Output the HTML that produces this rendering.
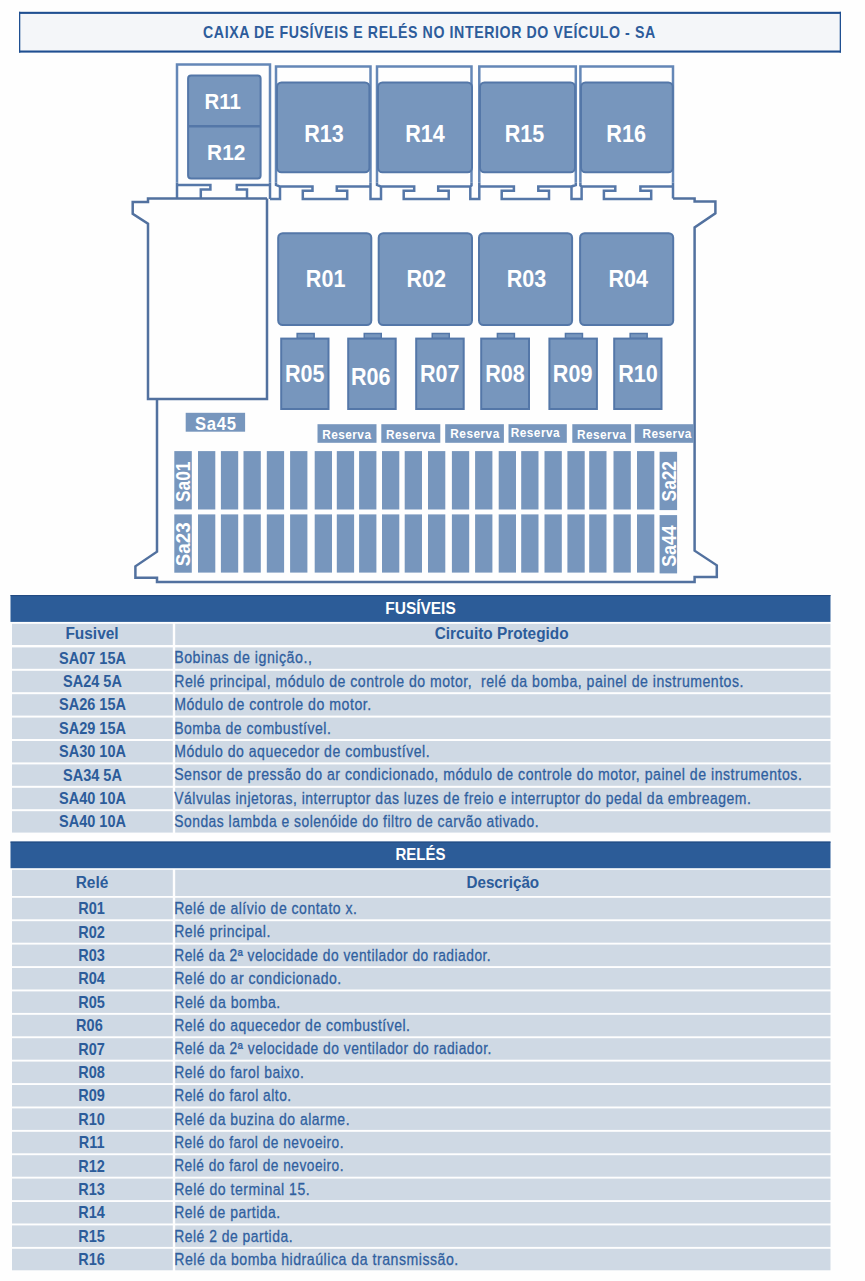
<!DOCTYPE html>
<html><head><meta charset="utf-8"><style>
html,body{margin:0;padding:0;background:#fefefe;}
body{width:865px;height:1281px;position:relative;overflow:hidden;}
svg{position:absolute;left:0;top:0;}
svg text{font-family:"Liberation Sans",sans-serif;white-space:pre;}
</style></head><body>
<svg width="865" height="1281" viewBox="0 0 865 1281">
<rect x="19" y="12" width="822" height="40.5" fill="#f4f6f9"/>
<rect x="19" y="11.8" width="822" height="2.1" fill="#1f4f91"/>
<rect x="19" y="50.5" width="822" height="2.1" fill="#1f4f91"/>
<rect x="19" y="11.8" width="1.3" height="40.8" fill="#1f4f91"/>
<rect x="839.7" y="11.8" width="1.3" height="40.8" fill="#1f4f91"/>
<text x="0" y="0" font-size="16.2" font-weight="bold" letter-spacing="0.69" fill="#2d5c9b" text-anchor="middle" transform="translate(429.4,37.7) scale(0.874,1)">CAIXA DE FUSÍVEIS E RELÉS NO INTERIOR DO VEÍCULO - SA</text>
<defs><clipPath id="lo"><rect x="0" y="182.5" width="865" height="30"/></clipPath><clipPath id="hi"><rect x="0" y="0" width="865" height="182.5"/></clipPath></defs>
<path d="M177,198.5 L177,64.5 L270,64.5 L270,199 M177,185 L210.4,185 L210.4,189.5 L200.8,189.5 L200.8,198.5 M247,198.5 L247,189.5 L236.8,189.5 L236.8,185 L270,185 M270,199 L280,199 L280,186.5 L276,185 L276,66.5 L370.5,66.5 L370.5,199 L381,199 L381,186.5 L377,185 L377,66.5 L471.5,66.5 L471.5,185.5 L470.3,186.5 L470.3,199 L479.3,199 L479.3,66.5 L575.8,66.5 L575.8,185 L571.5,186.5 L571.5,199 L581.6,199 L581.6,186.5 L580.4,185.5 L580.4,66.5 L673,66.5 L673,198.5 M280,186.4 L312.5,186.4 L312.5,190.8 L302.8,190.8 L302.8,199 L347.2,199 L347.2,190.8 L336.8,190.8 L336.8,186.4 L370.5,186.4 M381,186.4 L414.2,186.4 L414.2,190.8 L403.7,190.8 L403.7,199 L448.7,199 L448.7,190.8 L438.2,190.8 L438.2,186.4 L470.3,186.4 M479.3,186.4 L513.9,186.4 L513.9,190.8 L501.7,190.8 L501.7,199 L549,199 L549,190.8 L538.3,190.8 L538.3,186.4 L571.5,186.4 M581.6,186.4 L615.3,186.4 L615.3,190.8 L603.9,190.8 L603.9,199 L651.2,199 L651.2,190.8 L640.4,190.8 L640.4,186.4 L673,186.4" fill="none" stroke="#6487b7" stroke-width="2.5" stroke-linejoin="miter" clip-path="url(#hi)"/>
<path d="M177,198.5 L177,64.5 L270,64.5 L270,199 M177,185 L210.4,185 L210.4,189.5 L200.8,189.5 L200.8,198.5 M247,198.5 L247,189.5 L236.8,189.5 L236.8,185 L270,185 M270,199 L280,199 L280,186.5 L276,185 L276,66.5 L370.5,66.5 L370.5,199 L381,199 L381,186.5 L377,185 L377,66.5 L471.5,66.5 L471.5,185.5 L470.3,186.5 L470.3,199 L479.3,199 L479.3,66.5 L575.8,66.5 L575.8,185 L571.5,186.5 L571.5,199 L581.6,199 L581.6,186.5 L580.4,185.5 L580.4,66.5 L673,66.5 L673,198.5 M280,186.4 L312.5,186.4 L312.5,190.8 L302.8,190.8 L302.8,199 L347.2,199 L347.2,190.8 L336.8,190.8 L336.8,186.4 L370.5,186.4 M381,186.4 L414.2,186.4 L414.2,190.8 L403.7,190.8 L403.7,199 L448.7,199 L448.7,190.8 L438.2,190.8 L438.2,186.4 L470.3,186.4 M479.3,186.4 L513.9,186.4 L513.9,190.8 L501.7,190.8 L501.7,199 L549,199 L549,190.8 L538.3,190.8 L538.3,186.4 L571.5,186.4 M581.6,186.4 L615.3,186.4 L615.3,190.8 L603.9,190.8 L603.9,199 L651.2,199 L651.2,190.8 L640.4,190.8 L640.4,186.4 L673,186.4" fill="none" stroke="#5577a8" stroke-width="2.5" stroke-linejoin="miter" clip-path="url(#lo)"/>
<path d="M267,198.5 L148,198.5 L148,202 L132.7,202 L132.7,213.7 L148,223.6 L148,399 L267,399 L267,198.5 M157,399 L157,551.7 L135.4,566.3 L135.4,577.8 L157,577.8 L157,582 L694.6,582 L694.6,577 L716.8,577 L716.8,565.3 L694.6,550.7 L694.6,227.4 L715.4,213.4 L715.4,201.4 L694.6,201.4 L694.6,198.5 L673,198.5" fill="none" stroke="#52719f" stroke-width="2.5" stroke-linejoin="miter"/>
<rect x="188.1" y="75.6" width="72.5" height="102.8" rx="3" fill="#7796bd" stroke="#5477a8" stroke-width="2"/>
<line x1="188" y1="126.3" x2="261" y2="126.3" stroke="#5477a8" stroke-width="2.5"/>
<text x="0" y="0" font-size="22.4" font-weight="bold" fill="#ffffff" text-anchor="middle" transform="translate(222.75,108.8) scale(0.91,1)">R11</text>
<text x="0" y="0" font-size="22.4" font-weight="bold" fill="#ffffff" text-anchor="middle" transform="translate(226.2,160.4) scale(0.93,1)">R12</text>
<rect x="277" y="82.5" width="92.39999999999998" height="89.80000000000001" rx="4.5" fill="#7796bd" stroke="#5477a8" stroke-width="2"/>
<text x="0" y="0" font-size="23.2" font-weight="bold" fill="#ffffff" text-anchor="middle" transform="translate(324,141.8) scale(0.93,1)">R13</text>
<rect x="378" y="82.5" width="94" height="89.80000000000001" rx="4.5" fill="#7796bd" stroke="#5477a8" stroke-width="2"/>
<text x="0" y="0" font-size="23.2" font-weight="bold" fill="#ffffff" text-anchor="middle" transform="translate(425,141.8) scale(0.93,1)">R14</text>
<rect x="480" y="82.5" width="95" height="89.80000000000001" rx="4.5" fill="#7796bd" stroke="#5477a8" stroke-width="2"/>
<text x="0" y="0" font-size="23.2" font-weight="bold" fill="#ffffff" text-anchor="middle" transform="translate(524.4,141.8) scale(0.93,1)">R15</text>
<rect x="581" y="82.5" width="91.79999999999995" height="89.80000000000001" rx="4.5" fill="#7796bd" stroke="#5477a8" stroke-width="2"/>
<text x="0" y="0" font-size="23.2" font-weight="bold" fill="#ffffff" text-anchor="middle" transform="translate(626.1,141.8) scale(0.93,1)">R16</text>
<rect x="278.2" y="233.2" width="93.10000000000002" height="91.80000000000001" rx="4.5" fill="#7796bd" stroke="#5477a8" stroke-width="2"/>
<text x="0" y="0" font-size="23.2" font-weight="bold" fill="#ffffff" text-anchor="middle" transform="translate(325.6,286.8) scale(0.93,1)">R01</text>
<rect x="378.7" y="233.2" width="93.30000000000001" height="91.80000000000001" rx="4.5" fill="#7796bd" stroke="#5477a8" stroke-width="2"/>
<text x="0" y="0" font-size="23.2" font-weight="bold" fill="#ffffff" text-anchor="middle" transform="translate(426.2,286.8) scale(0.93,1)">R02</text>
<rect x="479" y="233.2" width="93.10000000000002" height="91.80000000000001" rx="4.5" fill="#7796bd" stroke="#5477a8" stroke-width="2"/>
<text x="0" y="0" font-size="23.2" font-weight="bold" fill="#ffffff" text-anchor="middle" transform="translate(526.5,286.8) scale(0.93,1)">R03</text>
<rect x="580.1" y="233.2" width="93.10000000000002" height="91.80000000000001" rx="4.5" fill="#7796bd" stroke="#5477a8" stroke-width="2"/>
<text x="0" y="0" font-size="23.2" font-weight="bold" fill="#ffffff" text-anchor="middle" transform="translate(628.3,286.8) scale(0.93,1)">R04</text>
<rect x="297.15000000000003" y="333.5" width="17" height="5" fill="#7796bd" stroke="#5477a8" stroke-width="1.5"/>
<rect x="281.2" y="338.6" width="47.30000000000001" height="70.4" fill="#7796bd" stroke="#5477a8" stroke-width="2"/>
<text x="0" y="0" font-size="23.2" font-weight="bold" fill="#ffffff" text-anchor="middle" transform="translate(304.8,382.2) scale(0.93,1)">R05</text>
<rect x="364.25" y="333.5" width="17" height="5" fill="#7796bd" stroke="#5477a8" stroke-width="1.5"/>
<rect x="348.2" y="338.6" width="47.5" height="70.4" fill="#7796bd" stroke="#5477a8" stroke-width="2"/>
<text x="0" y="0" font-size="23.2" font-weight="bold" fill="#ffffff" text-anchor="middle" transform="translate(370.7,384.7) scale(0.93,1)">R06</text>
<rect x="432.25" y="333.5" width="17" height="5" fill="#7796bd" stroke="#5477a8" stroke-width="1.5"/>
<rect x="416.2" y="338.6" width="47.5" height="70.4" fill="#7796bd" stroke="#5477a8" stroke-width="2"/>
<text x="0" y="0" font-size="23.2" font-weight="bold" fill="#ffffff" text-anchor="middle" transform="translate(439.7,382.2) scale(0.93,1)">R07</text>
<rect x="497.40000000000003" y="333.5" width="17" height="5" fill="#7796bd" stroke="#5477a8" stroke-width="1.5"/>
<rect x="481.2" y="338.6" width="47.80000000000001" height="70.4" fill="#7796bd" stroke="#5477a8" stroke-width="2"/>
<text x="0" y="0" font-size="23.2" font-weight="bold" fill="#ffffff" text-anchor="middle" transform="translate(505,382.2) scale(0.93,1)">R08</text>
<rect x="565.4499999999999" y="333.5" width="17" height="5" fill="#7796bd" stroke="#5477a8" stroke-width="1.5"/>
<rect x="549.4" y="338.6" width="47.5" height="70.4" fill="#7796bd" stroke="#5477a8" stroke-width="2"/>
<text x="0" y="0" font-size="23.2" font-weight="bold" fill="#ffffff" text-anchor="middle" transform="translate(572.6,382.2) scale(0.93,1)">R09</text>
<rect x="630.15" y="333.5" width="17" height="5" fill="#7796bd" stroke="#5477a8" stroke-width="1.5"/>
<rect x="614.2" y="338.6" width="47.299999999999955" height="70.4" fill="#7796bd" stroke="#5477a8" stroke-width="2"/>
<text x="0" y="0" font-size="23.2" font-weight="bold" fill="#ffffff" text-anchor="middle" transform="translate(638,382.2) scale(0.93,1)">R10</text>
<rect x="185.7" y="412.8" width="59.4" height="18.9" fill="#7796bd"/>
<text x="0" y="0" font-size="18.5" font-weight="bold" letter-spacing="0.8" fill="#ffffff" text-anchor="middle" transform="translate(215.9,429.8) scale(0.9,1)">Sa45</text>
<rect x="317.5" y="424.2" width="59.0" height="18.6" fill="#7796bd"/>
<text x="0" y="0" font-size="13.2" font-weight="bold" letter-spacing="0.5" fill="#ffffff" text-anchor="middle" transform="translate(346.8,439.3) scale(0.9,1)">Reserva</text>
<rect x="381.3" y="424.2" width="59.0" height="18.6" fill="#7796bd"/>
<text x="0" y="0" font-size="13.2" font-weight="bold" letter-spacing="0.5" fill="#ffffff" text-anchor="middle" transform="translate(410.7,439.3) scale(0.9,1)">Reserva</text>
<rect x="445.2" y="424.2" width="58.69999999999999" height="18.6" fill="#7796bd"/>
<text x="0" y="0" font-size="13.2" font-weight="bold" letter-spacing="0.5" fill="#ffffff" text-anchor="middle" transform="translate(475.0,438) scale(0.9,1)">Reserva</text>
<rect x="508.5" y="424.2" width="58.299999999999955" height="18.6" fill="#7796bd"/>
<text x="0" y="0" font-size="13.2" font-weight="bold" letter-spacing="0.5" fill="#ffffff" text-anchor="middle" transform="translate(535.4000000000001,437.3) scale(0.9,1)">Reserva</text>
<rect x="572.3" y="424.2" width="58.80000000000007" height="18.6" fill="#7796bd"/>
<text x="0" y="0" font-size="13.2" font-weight="bold" letter-spacing="0.5" fill="#ffffff" text-anchor="middle" transform="translate(601.6,439.3) scale(0.9,1)">Reserva</text>
<rect x="634.7" y="424.2" width="59.299999999999955" height="18.6" fill="#7796bd"/>
<text x="0" y="0" font-size="13.2" font-weight="bold" letter-spacing="0.5" fill="#ffffff" text-anchor="middle" transform="translate(667.1,438) scale(0.9,1)">Reserva</text>
<rect x="198" y="451.1" width="17.3" height="58.4" fill="#7796bd"/>
<rect x="198" y="514.4" width="17.3" height="58.2" fill="#7796bd"/>
<rect x="220.9" y="451.1" width="17.3" height="58.4" fill="#7796bd"/>
<rect x="220.9" y="514.4" width="17.3" height="58.2" fill="#7796bd"/>
<rect x="243.5" y="451.1" width="17.3" height="58.4" fill="#7796bd"/>
<rect x="243.5" y="514.4" width="17.3" height="58.2" fill="#7796bd"/>
<rect x="266.8" y="451.1" width="17.3" height="58.4" fill="#7796bd"/>
<rect x="266.8" y="514.4" width="17.3" height="58.2" fill="#7796bd"/>
<rect x="290.1" y="451.1" width="17.3" height="58.4" fill="#7796bd"/>
<rect x="290.1" y="514.4" width="17.3" height="58.2" fill="#7796bd"/>
<rect x="314.7" y="451.1" width="17.3" height="58.4" fill="#7796bd"/>
<rect x="314.7" y="514.4" width="17.3" height="58.2" fill="#7796bd"/>
<rect x="336.8" y="451.1" width="17.3" height="58.4" fill="#7796bd"/>
<rect x="336.8" y="514.4" width="17.3" height="58.2" fill="#7796bd"/>
<rect x="359.1" y="451.1" width="17.3" height="58.4" fill="#7796bd"/>
<rect x="359.1" y="514.4" width="17.3" height="58.2" fill="#7796bd"/>
<rect x="382" y="451.1" width="17.3" height="58.4" fill="#7796bd"/>
<rect x="382" y="514.4" width="17.3" height="58.2" fill="#7796bd"/>
<rect x="404.7" y="451.1" width="17.3" height="58.4" fill="#7796bd"/>
<rect x="404.7" y="514.4" width="17.3" height="58.2" fill="#7796bd"/>
<rect x="428" y="451.1" width="17.3" height="58.4" fill="#7796bd"/>
<rect x="428" y="514.4" width="17.3" height="58.2" fill="#7796bd"/>
<rect x="451.9" y="451.1" width="17.3" height="58.4" fill="#7796bd"/>
<rect x="451.9" y="514.4" width="17.3" height="58.2" fill="#7796bd"/>
<rect x="475.1" y="451.1" width="17.3" height="58.4" fill="#7796bd"/>
<rect x="475.1" y="514.4" width="17.3" height="58.2" fill="#7796bd"/>
<rect x="498.7" y="451.1" width="17.3" height="58.4" fill="#7796bd"/>
<rect x="498.7" y="514.4" width="17.3" height="58.2" fill="#7796bd"/>
<rect x="521.2" y="451.1" width="17.3" height="58.4" fill="#7796bd"/>
<rect x="521.2" y="514.4" width="17.3" height="58.2" fill="#7796bd"/>
<rect x="544.5" y="451.1" width="17.3" height="58.4" fill="#7796bd"/>
<rect x="544.5" y="514.4" width="17.3" height="58.2" fill="#7796bd"/>
<rect x="567.4" y="451.1" width="17.3" height="58.4" fill="#7796bd"/>
<rect x="567.4" y="514.4" width="17.3" height="58.2" fill="#7796bd"/>
<rect x="589.2" y="451.1" width="17.3" height="58.4" fill="#7796bd"/>
<rect x="589.2" y="514.4" width="17.3" height="58.2" fill="#7796bd"/>
<rect x="613.5" y="451.1" width="17.3" height="58.4" fill="#7796bd"/>
<rect x="613.5" y="514.4" width="17.3" height="58.2" fill="#7796bd"/>
<rect x="637" y="451.1" width="17.3" height="58.4" fill="#7796bd"/>
<rect x="637" y="514.4" width="17.3" height="58.2" fill="#7796bd"/>
<rect x="174.3" y="451.1" width="17.5" height="58.3" fill="#7796bd"/>
<text x="0" y="0" font-size="20" font-weight="bold" fill="#ffffff" text-anchor="middle" transform="translate(190.25,481.8) rotate(-90) scale(0.865,1)">Sa01</text>
<rect x="174.3" y="514.4" width="17.5" height="58.3" fill="#7796bd"/>
<text x="0" y="0" font-size="20" font-weight="bold" fill="#ffffff" text-anchor="middle" transform="translate(190.25,544.3000000000001) rotate(-90) scale(0.935,1)">Sa23</text>
<rect x="659.6" y="451.8" width="17.5" height="58.3" fill="#7796bd"/>
<text x="0" y="0" font-size="20" font-weight="bold" fill="#ffffff" text-anchor="middle" transform="translate(675.5500000000001,481.2) rotate(-90) scale(0.865,1)">Sa22</text>
<rect x="659.6" y="515.1" width="17.5" height="58.3" fill="#7796bd"/>
<text x="0" y="0" font-size="20" font-weight="bold" fill="#ffffff" text-anchor="middle" transform="translate(675.5500000000001,546.0500000000001) rotate(-90) scale(0.89,1)">Sa44</text>
<rect x="10.5" y="595.1" width="820" height="26.799999999999955" fill="#2c5c98"/>
<rect x="10.5" y="595.1" width="820" height="1" fill="#21497f"/>
<text x="0" y="0" font-size="16.3" font-weight="bold" fill="#ffffff" text-anchor="middle" transform="translate(420.5,614.1) scale(0.95,1)">FUSÍVEIS</text>
<rect x="12" y="623.8" width="160.8" height="21.2" fill="#cfd9e4"/>
<rect x="175.2" y="623.8" width="655.3" height="21.2" fill="#cfd9e4"/>
<text x="0" y="0" font-size="15.6" font-weight="bold" fill="#2c5c9a" text-anchor="middle" transform="translate(92,639.1) scale(0.99,1)">Fusivel</text>
<text x="0" y="0" font-size="15.6" font-weight="bold" fill="#2c5c9a" text-anchor="middle" transform="translate(501.6,639.4) scale(0.985,1)">Circuito Protegido</text>
<rect x="12" y="647.4" width="160.8" height="21.4" fill="#cfd9e4"/>
<rect x="175.2" y="647.4" width="655.3" height="21.4" fill="#cfd9e4"/>
<text x="0" y="0" font-size="15.6" font-weight="bold" fill="#2c5c9a" text-anchor="middle" transform="translate(92.5,663.5) scale(0.93,1)">SA07 15A</text>
<text x="0" y="0" font-size="16.5" stroke="#2f5f9f" stroke-width="0.3" letter-spacing="0.6" fill="#2f5f9f" text-anchor="start" transform="translate(174.2,663.4) scale(0.8613,1)">Bobinas de ignição.,</text>
<rect x="12" y="670.8" width="160.8" height="21.4" fill="#cfd9e4"/>
<rect x="175.2" y="670.8" width="655.3" height="21.4" fill="#cfd9e4"/>
<text x="0" y="0" font-size="15.6" font-weight="bold" fill="#2c5c9a" text-anchor="middle" transform="translate(92.5,686.9) scale(0.93,1)">SA24 5A</text>
<text x="0" y="0" font-size="16.5" stroke="#2f5f9f" stroke-width="0.3" letter-spacing="0.6" fill="#2f5f9f" text-anchor="start" transform="translate(174.2,686.8) scale(0.8541,1)">Relé principal, módulo de controle do motor,  relé da bomba, painel de instrumentos.</text>
<rect x="12" y="694.1999999999999" width="160.8" height="21.4" fill="#cfd9e4"/>
<rect x="175.2" y="694.1999999999999" width="655.3" height="21.4" fill="#cfd9e4"/>
<text x="0" y="0" font-size="15.6" font-weight="bold" fill="#2c5c9a" text-anchor="middle" transform="translate(92.5,710.3) scale(0.93,1)">SA26 15A</text>
<text x="0" y="0" font-size="16.5" stroke="#2f5f9f" stroke-width="0.3" letter-spacing="0.6" fill="#2f5f9f" text-anchor="start" transform="translate(174.2,710.1999999999999) scale(0.8569,1)">Módulo de controle do motor.</text>
<rect x="12" y="717.5999999999999" width="160.8" height="21.4" fill="#cfd9e4"/>
<rect x="175.2" y="717.5999999999999" width="655.3" height="21.4" fill="#cfd9e4"/>
<text x="0" y="0" font-size="15.6" font-weight="bold" fill="#2c5c9a" text-anchor="middle" transform="translate(92.5,733.6999999999999) scale(0.93,1)">SA29 15A</text>
<text x="0" y="0" font-size="16.5" stroke="#2f5f9f" stroke-width="0.3" letter-spacing="0.6" fill="#2f5f9f" text-anchor="start" transform="translate(174.2,733.5999999999999) scale(0.8503,1)">Bomba de combustível.</text>
<rect x="12" y="741.0" width="160.8" height="21.4" fill="#cfd9e4"/>
<rect x="175.2" y="741.0" width="655.3" height="21.4" fill="#cfd9e4"/>
<text x="0" y="0" font-size="15.6" font-weight="bold" fill="#2c5c9a" text-anchor="middle" transform="translate(92.5,757.1) scale(0.93,1)">SA30 10A</text>
<text x="0" y="0" font-size="16.5" stroke="#2f5f9f" stroke-width="0.3" letter-spacing="0.6" fill="#2f5f9f" text-anchor="start" transform="translate(174.2,757.0) scale(0.8511,1)">Módulo do aquecedor de combustível.</text>
<rect x="12" y="764.4" width="160.8" height="21.4" fill="#cfd9e4"/>
<rect x="175.2" y="764.4" width="655.3" height="21.4" fill="#cfd9e4"/>
<text x="0" y="0" font-size="15.6" font-weight="bold" fill="#2c5c9a" text-anchor="middle" transform="translate(92.5,780.5) scale(0.93,1)">SA34 5A</text>
<text x="0" y="0" font-size="16.5" stroke="#2f5f9f" stroke-width="0.3" letter-spacing="0.6" fill="#2f5f9f" text-anchor="start" transform="translate(174.2,780.4) scale(0.8558,1)">Sensor de pressão do ar condicionado, módulo de controle do motor, painel de instrumentos.</text>
<rect x="12" y="787.8" width="160.8" height="21.4" fill="#cfd9e4"/>
<rect x="175.2" y="787.8" width="655.3" height="21.4" fill="#cfd9e4"/>
<text x="0" y="0" font-size="15.6" font-weight="bold" fill="#2c5c9a" text-anchor="middle" transform="translate(92.5,803.9) scale(0.93,1)">SA40 10A</text>
<text x="0" y="0" font-size="16.5" stroke="#2f5f9f" stroke-width="0.3" letter-spacing="0.6" fill="#2f5f9f" text-anchor="start" transform="translate(174.2,803.8) scale(0.8478,1)">Válvulas injetoras, interruptor das luzes de freio e interruptor do pedal da embreagem.</text>
<rect x="12" y="811.1999999999999" width="160.8" height="21.4" fill="#cfd9e4"/>
<rect x="175.2" y="811.1999999999999" width="655.3" height="21.4" fill="#cfd9e4"/>
<text x="0" y="0" font-size="15.6" font-weight="bold" fill="#2c5c9a" text-anchor="middle" transform="translate(92.5,827.3) scale(0.93,1)">SA40 10A</text>
<text x="0" y="0" font-size="16.5" stroke="#2f5f9f" stroke-width="0.3" letter-spacing="0.6" fill="#2f5f9f" text-anchor="start" transform="translate(174.2,827.1999999999999) scale(0.841,1)">Sondas lambda e solenóide do filtro de carvão ativado.</text>
<rect x="10.5" y="841.6" width="820" height="26.600000000000023" fill="#2c5c98"/>
<rect x="10.5" y="841.6" width="820" height="1" fill="#21497f"/>
<text x="0" y="0" font-size="16.3" font-weight="bold" fill="#ffffff" text-anchor="middle" transform="translate(420.5,859.8) scale(0.92,1)">RELÉS</text>
<rect x="12" y="869.8" width="160.8" height="26.2" fill="#cfd9e4"/>
<rect x="175.2" y="869.8" width="655.3" height="26.2" fill="#cfd9e4"/>
<text x="0" y="0" font-size="15.6" font-weight="bold" fill="#2c5c9a" text-anchor="middle" transform="translate(92,887.8) scale(0.99,1)">Relé</text>
<text x="0" y="0" font-size="15.6" font-weight="bold" fill="#2c5c9a" text-anchor="middle" transform="translate(502.8,887.9) scale(0.975,1)">Descrição</text>
<rect x="12" y="897.8" width="160.8" height="21.5" fill="#cfd9e4"/>
<rect x="175.2" y="897.8" width="655.3" height="21.5" fill="#cfd9e4"/>
<text x="0" y="0" font-size="15.6" font-weight="bold" fill="#2c5c9a" text-anchor="middle" transform="translate(91.6,914.0999999999999) scale(0.93,1)">R01</text>
<text x="0" y="0" font-size="16.5" stroke="#2f5f9f" stroke-width="0.3" letter-spacing="0.6" fill="#2f5f9f" text-anchor="start" transform="translate(174.2,914.0) scale(0.8493,1)">Relé de alívio de contato x.</text>
<rect x="12" y="921.1999999999999" width="160.8" height="21.5" fill="#cfd9e4"/>
<rect x="175.2" y="921.1999999999999" width="655.3" height="21.5" fill="#cfd9e4"/>
<text x="0" y="0" font-size="15.6" font-weight="bold" fill="#2c5c9a" text-anchor="middle" transform="translate(91.6,937.4999999999999) scale(0.93,1)">R02</text>
<text x="0" y="0" font-size="16.5" stroke="#2f5f9f" stroke-width="0.3" letter-spacing="0.6" fill="#2f5f9f" text-anchor="start" transform="translate(174.2,937.4) scale(0.8521,1)">Relé principal.</text>
<rect x="12" y="944.5999999999999" width="160.8" height="21.5" fill="#cfd9e4"/>
<rect x="175.2" y="944.5999999999999" width="655.3" height="21.5" fill="#cfd9e4"/>
<text x="0" y="0" font-size="15.6" font-weight="bold" fill="#2c5c9a" text-anchor="middle" transform="translate(91.6,960.8999999999999) scale(0.93,1)">R03</text>
<text x="0" y="0" font-size="16.5" stroke="#2f5f9f" stroke-width="0.3" letter-spacing="0.6" fill="#2f5f9f" text-anchor="start" transform="translate(174.2,960.8) scale(0.8354,1)">Relé da 2ª velocidade do ventilador do radiador.</text>
<rect x="12" y="968.0" width="160.8" height="21.5" fill="#cfd9e4"/>
<rect x="175.2" y="968.0" width="655.3" height="21.5" fill="#cfd9e4"/>
<text x="0" y="0" font-size="15.6" font-weight="bold" fill="#2c5c9a" text-anchor="middle" transform="translate(91.6,984.3) scale(0.93,1)">R04</text>
<text x="0" y="0" font-size="16.5" stroke="#2f5f9f" stroke-width="0.3" letter-spacing="0.6" fill="#2f5f9f" text-anchor="start" transform="translate(174.2,984.2) scale(0.8515,1)">Relé do ar condicionado.</text>
<rect x="12" y="991.4" width="160.8" height="21.5" fill="#cfd9e4"/>
<rect x="175.2" y="991.4" width="655.3" height="21.5" fill="#cfd9e4"/>
<text x="0" y="0" font-size="15.6" font-weight="bold" fill="#2c5c9a" text-anchor="middle" transform="translate(91.6,1007.6999999999999) scale(0.93,1)">R05</text>
<text x="0" y="0" font-size="16.5" stroke="#2f5f9f" stroke-width="0.3" letter-spacing="0.6" fill="#2f5f9f" text-anchor="start" transform="translate(174.2,1007.6) scale(0.8538,1)">Relé da bomba.</text>
<rect x="12" y="1014.8" width="160.8" height="21.5" fill="#cfd9e4"/>
<rect x="175.2" y="1014.8" width="655.3" height="21.5" fill="#cfd9e4"/>
<text x="0" y="0" font-size="15.6" font-weight="bold" fill="#2c5c9a" text-anchor="middle" transform="translate(89.39999999999999,1031.1) scale(0.93,1)">R06</text>
<text x="0" y="0" font-size="16.5" stroke="#2f5f9f" stroke-width="0.3" letter-spacing="0.6" fill="#2f5f9f" text-anchor="start" transform="translate(174.2,1031.0) scale(0.8468,1)">Relé do aquecedor de combustível.</text>
<rect x="12" y="1038.1999999999998" width="160.8" height="21.5" fill="#cfd9e4"/>
<rect x="175.2" y="1038.1999999999998" width="655.3" height="21.5" fill="#cfd9e4"/>
<text x="0" y="0" font-size="15.6" font-weight="bold" fill="#2c5c9a" text-anchor="middle" transform="translate(91.6,1054.4999999999998) scale(0.93,1)">R07</text>
<text x="0" y="0" font-size="16.5" stroke="#2f5f9f" stroke-width="0.3" letter-spacing="0.6" fill="#2f5f9f" text-anchor="start" transform="translate(174.2,1054.3999999999999) scale(0.8369,1)">Relé da 2ª velocidade do ventilador do radiador.</text>
<rect x="12" y="1061.6" width="160.8" height="21.5" fill="#cfd9e4"/>
<rect x="175.2" y="1061.6" width="655.3" height="21.5" fill="#cfd9e4"/>
<text x="0" y="0" font-size="15.6" font-weight="bold" fill="#2c5c9a" text-anchor="middle" transform="translate(91.6,1077.8999999999999) scale(0.93,1)">R08</text>
<text x="0" y="0" font-size="16.5" stroke="#2f5f9f" stroke-width="0.3" letter-spacing="0.6" fill="#2f5f9f" text-anchor="start" transform="translate(174.2,1077.8) scale(0.8449,1)">Relé do farol baixo.</text>
<rect x="12" y="1085.0" width="160.8" height="21.5" fill="#cfd9e4"/>
<rect x="175.2" y="1085.0" width="655.3" height="21.5" fill="#cfd9e4"/>
<text x="0" y="0" font-size="15.6" font-weight="bold" fill="#2c5c9a" text-anchor="middle" transform="translate(91.6,1101.3) scale(0.93,1)">R09</text>
<text x="0" y="0" font-size="16.5" stroke="#2f5f9f" stroke-width="0.3" letter-spacing="0.6" fill="#2f5f9f" text-anchor="start" transform="translate(174.2,1101.2) scale(0.8352,1)">Relé do farol alto.</text>
<rect x="12" y="1108.3999999999999" width="160.8" height="21.5" fill="#cfd9e4"/>
<rect x="175.2" y="1108.3999999999999" width="655.3" height="21.5" fill="#cfd9e4"/>
<text x="0" y="0" font-size="15.6" font-weight="bold" fill="#2c5c9a" text-anchor="middle" transform="translate(91.6,1124.6999999999998) scale(0.93,1)">R10</text>
<text x="0" y="0" font-size="16.5" stroke="#2f5f9f" stroke-width="0.3" letter-spacing="0.6" fill="#2f5f9f" text-anchor="start" transform="translate(174.2,1124.6) scale(0.8476,1)">Relé da buzina do alarme.</text>
<rect x="12" y="1131.8" width="160.8" height="21.5" fill="#cfd9e4"/>
<rect x="175.2" y="1131.8" width="655.3" height="21.5" fill="#cfd9e4"/>
<text x="0" y="0" font-size="15.6" font-weight="bold" fill="#2c5c9a" text-anchor="middle" transform="translate(91.6,1148.1) scale(0.93,1)">R11</text>
<text x="0" y="0" font-size="16.5" stroke="#2f5f9f" stroke-width="0.3" letter-spacing="0.6" fill="#2f5f9f" text-anchor="start" transform="translate(174.2,1148.0) scale(0.831,1)">Relé do farol de nevoeiro.</text>
<rect x="12" y="1155.1999999999998" width="160.8" height="21.5" fill="#cfd9e4"/>
<rect x="175.2" y="1155.1999999999998" width="655.3" height="21.5" fill="#cfd9e4"/>
<text x="0" y="0" font-size="15.6" font-weight="bold" fill="#2c5c9a" text-anchor="middle" transform="translate(91.6,1171.4999999999998) scale(0.93,1)">R12</text>
<text x="0" y="0" font-size="16.5" stroke="#2f5f9f" stroke-width="0.3" letter-spacing="0.6" fill="#2f5f9f" text-anchor="start" transform="translate(174.2,1171.3999999999999) scale(0.831,1)">Relé do farol de nevoeiro.</text>
<rect x="12" y="1178.6" width="160.8" height="21.5" fill="#cfd9e4"/>
<rect x="175.2" y="1178.6" width="655.3" height="21.5" fill="#cfd9e4"/>
<text x="0" y="0" font-size="15.6" font-weight="bold" fill="#2c5c9a" text-anchor="middle" transform="translate(91.6,1194.8999999999999) scale(0.93,1)">R13</text>
<text x="0" y="0" font-size="16.5" stroke="#2f5f9f" stroke-width="0.3" letter-spacing="0.6" fill="#2f5f9f" text-anchor="start" transform="translate(174.2,1194.8) scale(0.8522,1)">Relé do terminal 15.</text>
<rect x="12" y="1202.0" width="160.8" height="21.5" fill="#cfd9e4"/>
<rect x="175.2" y="1202.0" width="655.3" height="21.5" fill="#cfd9e4"/>
<text x="0" y="0" font-size="15.6" font-weight="bold" fill="#2c5c9a" text-anchor="middle" transform="translate(91.6,1218.3) scale(0.93,1)">R14</text>
<text x="0" y="0" font-size="16.5" stroke="#2f5f9f" stroke-width="0.3" letter-spacing="0.6" fill="#2f5f9f" text-anchor="start" transform="translate(174.2,1218.2) scale(0.8458,1)">Relé de partida.</text>
<rect x="12" y="1225.3999999999999" width="160.8" height="21.5" fill="#cfd9e4"/>
<rect x="175.2" y="1225.3999999999999" width="655.3" height="21.5" fill="#cfd9e4"/>
<text x="0" y="0" font-size="15.6" font-weight="bold" fill="#2c5c9a" text-anchor="middle" transform="translate(91.6,1241.6999999999998) scale(0.93,1)">R15</text>
<text x="0" y="0" font-size="16.5" stroke="#2f5f9f" stroke-width="0.3" letter-spacing="0.6" fill="#2f5f9f" text-anchor="start" transform="translate(174.2,1241.6) scale(0.8426,1)">Relé 2 de partida.</text>
<rect x="12" y="1248.8" width="160.8" height="21.5" fill="#cfd9e4"/>
<rect x="175.2" y="1248.8" width="655.3" height="21.5" fill="#cfd9e4"/>
<text x="0" y="0" font-size="15.6" font-weight="bold" fill="#2c5c9a" text-anchor="middle" transform="translate(91.6,1265.1) scale(0.93,1)">R16</text>
<text x="0" y="0" font-size="16.5" stroke="#2f5f9f" stroke-width="0.3" letter-spacing="0.6" fill="#2f5f9f" text-anchor="start" transform="translate(174.2,1265.0) scale(0.8572,1)">Relé da bomba hidraúlica da transmissão.</text>
</svg>
</body></html>
